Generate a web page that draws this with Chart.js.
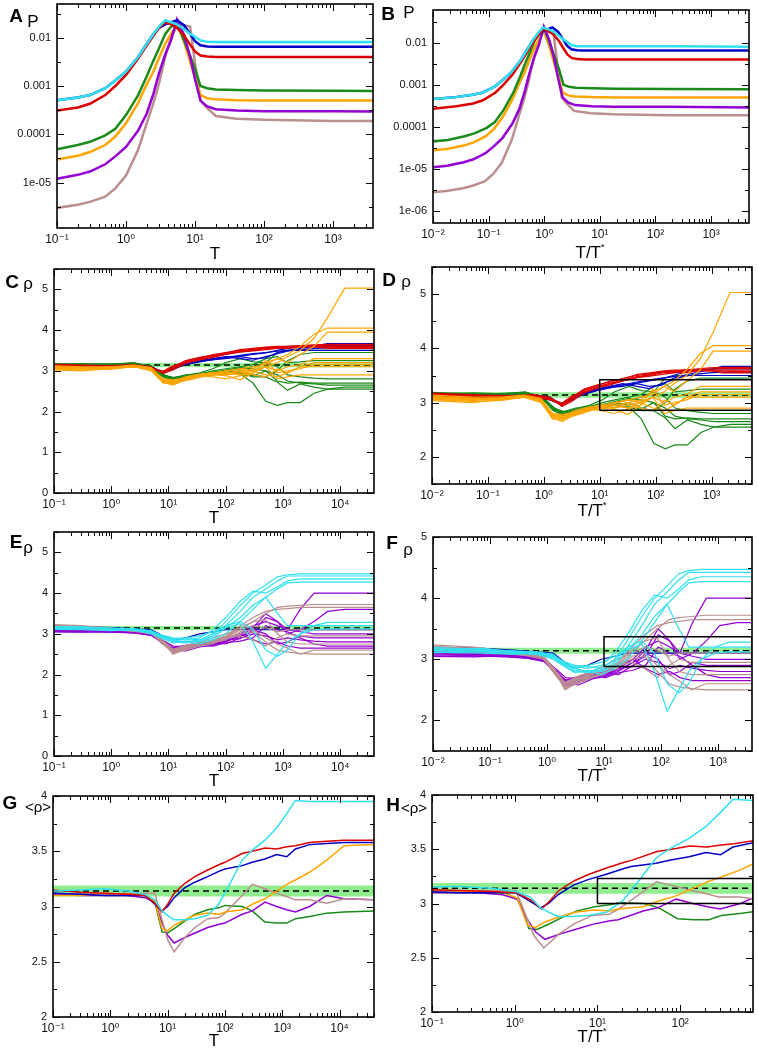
<!DOCTYPE html>
<html>
<head>
<meta charset="UTF-8">
<title>P and rho versus T</title>
<script src="https://cdn.jsdelivr.net/npm/chart.js"></script>
<style>
  body { margin: 0; background: #fff; width: 758px; height: 1050px; position: relative; overflow: hidden;
         font-family: "Liberation Sans", Arial, sans-serif; }
  canvas { position: absolute; }
  .lab { position: absolute; transform: translate(-50%, -50%); white-space: nowrap; line-height: 1; color: #000; }
  .big { font-weight: bold; font-size: 19px; }
  sup { font-size: 9px; vertical-align: 8px; }
</style>
</head>
<body>
<script>
// colours of the seven systems
const colors = {
  cyan: '#30e0ee', blue: '#0000c8', red: '#dc0000', green: '#1a8a1a',
  orange: '#ffa500', purple: '#9400d3', brown: '#bc8f8f'
};
// T* of each system (used for the T/T* panels)
const tStar = { cyan: 3.9, blue: 3.9, red: 3.8, green: 5.4, orange: 5.6, purple: 5.6, brown: 5.8 };

// panels A / B : P(T)
const tP = [0.03, 0.1, 0.2, 0.3, 0.5, 0.7, 1, 1.5, 2, 2.5, 3, 3.7, 4.5, 5.5, 7, 8.5, 10, 12, 15, 20, 40, 100, 1000, 30000];
const pCyan   = [4.5e-4, 5.1e-4, 5.8e-4, 6.5e-4, 9e-4, 1.3e-3, 2e-3, 4e-3, 7.5e-3, 0.012, 0.017, 0.023, 0.021, 0.019, 0.015, 0.012, 0.0105, 0.0088, 0.0083, 0.0082, 0.0082, 0.0082, 0.0082, 0.008];
const pBlue   = [4.5e-4, 5.1e-4, 5.8e-4, 6.5e-4, 9e-4, 1.3e-3, 2e-3, 4e-3, 7.5e-3, 0.012, 0.016, 0.019, 0.021, 0.023, 0.018, 0.012, 0.0085, 0.0070, 0.0066, 0.0065, 0.0065, 0.0065, 0.0065, 0.0065];
const pRed    = [2.6e-4, 3.1e-4, 3.6e-4, 4.3e-4, 6.5e-4, 1e-3, 1.7e-3, 3.7e-3, 7e-3, 0.011, 0.016, 0.021, 0.019, 0.016, 0.011, 0.0072, 0.0052, 0.0043, 0.0041, 0.0040, 0.0040, 0.0040, 0.0040, 0.0040];
const pGreen  = [4.2e-5, 4.9e-5, 6e-5, 7e-5, 9.5e-5, 1.3e-4, 2.5e-4, 6.5e-4, 1.6e-3, 3.4e-3, 6e-3, 0.012, 0.017, 0.021, 0.0085, 0.0042, 0.0023, 0.0010, 0.0009, 0.00085, 0.00083, 0.00081, 0.0008, 0.00078];
const pOrange = [2.6e-5, 3e-5, 3.6e-5, 4.3e-5, 6e-5, 9e-5, 1.7e-4, 4.5e-4, 1.1e-3, 2e-3, 3.8e-3, 7.5e-3, 0.012, 0.019, 0.0079, 0.0032, 0.0015, 6.5e-4, 5.6e-4, 5.3e-4, 5.1e-4, 5e-4, 5e-4, 5e-4];
const pPurple = [1e-5, 1.2e-5, 1.45e-5, 1.7e-5, 2.4e-5, 3.5e-5, 5.5e-5, 1.2e-4, 2.7e-4, 7e-4, 1.8e-3, 4.5e-3, 9e-3, 0.024, 0.011, 0.004, 0.0014, 5e-4, 3.8e-4, 3.3e-4, 3.1e-4, 3e-4, 3e-4, 2.9e-4];
const pBrown  = [2.6e-6, 3e-6, 3.5e-6, 4e-6, 5.1e-6, 7.6e-6, 1.4e-5, 4.8e-5, 1.7e-4, 4.5e-4, 1.1e-3, 4e-3, 0.01, 0.018, 0.018, 0.017, 0.003, 5e-4, 3.5e-4, 2.4e-4, 2.1e-4, 2e-4, 1.9e-4, 1.9e-4];

// panels C..F : rho(T) of single runs
const tRho = [0.03, 0.3, 1, 2.5, 5, 8, 12, 20, 35, 60, 100, 180, 300, 500, 800, 1200, 2000, 3500, 6000, 12000, 40000];
const rhoRed = [
  [3.15,3.12,3.12,3.14,3.08,2.95,3.05,3.22,3.30,3.36,3.42,3.48,3.50,3.55,3.57,3.55,3.58,3.62,3.63,3.63,3.63],
  [3.12,3.10,3.10,3.12,3.06,2.97,3.10,3.25,3.33,3.38,3.45,3.50,3.53,3.57,3.58,3.60,3.62,3.64,3.65,3.65,3.65],
  [3.18,3.14,3.13,3.15,3.10,2.93,3.02,3.18,3.27,3.33,3.40,3.46,3.49,3.52,3.55,3.56,3.58,3.60,3.60,3.60,3.60],
  [3.10,3.08,3.11,3.13,3.07,2.99,3.12,3.20,3.28,3.34,3.41,3.47,3.52,3.56,3.56,3.58,3.60,3.58,3.58,3.57,3.57],
  [3.16,3.13,3.12,3.10,3.05,2.96,3.07,3.24,3.32,3.40,3.44,3.52,3.55,3.58,3.60,3.60,3.61,3.60,3.55,3.55,3.55]
];
const rhoBlue = [
  [3.14,3.12,3.10,3.12,3.08,2.98,3.05,3.15,3.22,3.28,3.30,3.35,3.30,3.32,3.45,3.50,3.55,3.60,3.67,3.67,3.67],
  [3.12,3.10,3.11,3.13,3.06,2.96,3.08,3.18,3.25,3.30,3.35,3.30,3.26,3.35,3.42,3.48,3.52,3.55,3.56,3.56,3.56],
  [3.16,3.12,3.12,3.14,3.10,2.97,3.04,3.17,3.24,3.30,3.33,3.38,3.42,3.45,3.48,3.50,3.50,3.50,3.50,3.50,3.50],
  [3.10,3.09,3.10,3.11,3.05,2.98,3.06,3.16,3.23,3.27,3.32,3.36,3.40,3.44,3.50,3.55,3.60,3.62,3.62,3.62,3.62]
];
const rhoGreen = [
  [3.15,3.18,3.16,3.20,3.10,2.88,2.80,2.82,2.86,2.90,2.95,2.92,2.70,2.25,2.15,2.22,2.22,2.45,2.55,2.60,2.60],
  [3.10,3.12,3.14,3.15,3.08,2.85,2.78,2.84,2.90,2.95,3.00,2.95,2.85,2.85,2.72,2.52,2.68,2.60,2.55,2.55,2.55],
  [3.20,3.16,3.15,3.18,3.12,2.90,2.82,2.88,2.95,3.05,3.20,3.30,3.22,3.20,3.10,2.90,2.85,2.82,2.80,2.80,2.80],
  [3.12,3.10,3.13,3.16,3.10,2.86,2.76,2.80,2.88,2.92,2.96,3.00,2.90,2.85,3.00,3.25,3.40,3.45,3.45,3.45,3.45],
  [3.16,3.14,3.12,3.14,3.06,2.90,2.84,2.85,2.90,2.96,3.02,3.08,3.05,3.00,2.90,2.75,2.70,2.68,2.65,2.65,2.65],
  [3.14,3.15,3.17,3.19,3.11,2.92,2.80,2.86,2.92,3.00,3.05,3.10,3.15,3.30,3.35,3.20,3.22,3.25,3.25,3.25,3.25],
  [3.18,3.13,3.14,3.15,3.09,2.87,2.83,2.90,2.93,2.97,2.98,2.90,2.88,3.00,2.75,2.70,2.72,2.70,2.70,2.70,2.70],
  [3.11,3.12,3.15,3.17,3.12,2.89,2.79,2.83,2.87,2.93,3.00,3.05,3.10,3.20,3.45,3.50,3.50,3.50,3.50,3.50,3.50]
];
const rhoOrange = [
  [3.10,3.05,3.08,3.12,3.05,2.75,2.70,2.80,2.88,2.92,2.95,2.90,3.00,3.10,3.20,3.35,3.50,3.80,4.30,5.03,5.03],
  [3.05,3.00,3.06,3.10,3.02,2.70,2.68,2.82,2.90,2.95,2.90,3.00,3.05,3.20,3.30,3.40,3.60,3.90,4.05,4.05,4.05],
  [3.12,3.08,3.05,3.13,3.06,2.80,2.75,2.85,2.92,2.95,3.00,3.05,3.10,3.15,3.30,3.20,3.40,3.60,3.95,3.95,3.95],
  [3.08,3.02,3.04,3.10,3.00,2.72,2.65,2.78,2.85,2.90,2.88,2.78,2.95,3.10,3.00,3.10,3.15,3.30,3.30,3.30,3.30],
  [3.15,3.10,3.10,3.14,3.08,2.78,2.72,2.80,2.86,2.90,2.95,3.00,2.90,2.85,3.05,2.95,3.10,3.20,3.20,3.20,3.20],
  [3.06,3.04,3.07,3.11,3.04,2.76,2.74,2.83,2.88,2.85,2.80,2.88,2.95,3.25,2.95,3.00,3.05,3.15,3.15,3.15,3.15],
  [3.10,3.06,3.09,3.12,3.03,2.74,2.70,2.76,2.84,2.92,2.98,3.05,3.00,2.90,2.85,2.95,3.10,3.10,3.10,3.10,3.10],
  [3.13,3.08,3.06,3.10,3.05,2.80,2.78,2.82,2.90,2.96,2.90,2.95,3.02,3.10,2.80,2.85,2.90,2.90,2.90,2.90,2.90]
];
const rhoCyan = [
  [3.15,3.18,3.12,3.10,3.05,2.95,2.85,2.80,2.85,3.00,3.30,3.70,4.00,4.20,4.40,4.45,4.47,4.47,4.47,4.47,4.47],
  [3.10,3.14,3.10,3.08,3.02,2.90,2.80,2.78,2.82,2.95,3.20,3.55,3.90,4.10,4.30,4.42,4.42,4.42,4.42,4.42,4.42],
  [3.20,3.16,3.14,3.12,3.06,2.92,2.88,2.85,2.90,3.10,3.40,3.80,4.05,4.00,4.15,4.30,4.35,4.35,4.35,4.35,4.35],
  [3.12,3.10,3.08,3.10,3.00,2.88,2.78,2.82,2.80,2.90,3.15,3.40,3.70,3.90,4.10,4.25,4.27,4.27,4.27,4.27,4.27],
  [3.18,3.15,3.13,3.12,3.08,2.94,2.82,2.80,2.75,2.85,3.00,3.30,3.10,2.60,2.45,2.60,3.00,3.20,3.28,3.28,3.28],
  [3.14,3.12,3.10,3.10,3.04,2.90,2.86,2.90,2.95,3.05,3.15,3.25,2.80,2.15,2.50,2.80,3.00,3.10,3.12,3.12,3.12],
  [3.16,3.13,3.11,3.10,3.05,2.96,2.90,2.88,2.85,3.00,3.20,3.30,3.60,3.90,3.50,3.20,3.20,3.20,3.20,3.20,3.20]
];
const rhoPurple = [
  [3.10,3.08,3.06,3.04,3.00,2.80,2.55,2.62,2.70,2.75,2.85,3.00,3.20,3.30,3.20,3.10,3.60,4.00,4.00,4.00,4.00],
  [3.06,3.05,3.05,3.02,2.98,2.75,2.60,2.58,2.68,2.72,2.80,2.95,3.05,3.40,3.30,3.00,3.10,3.30,3.55,3.60,3.60],
  [3.12,3.10,3.08,3.05,3.00,2.82,2.65,2.70,2.75,2.80,2.90,3.00,2.85,2.75,2.80,2.70,2.65,2.65,2.65,2.65,2.65],
  [3.08,3.06,3.04,3.02,2.96,2.78,2.58,2.64,2.72,2.70,2.78,2.82,2.90,3.20,3.10,3.05,2.90,2.75,2.70,2.70,2.70],
  [3.14,3.10,3.07,3.05,3.02,2.84,2.70,2.68,2.74,2.78,2.75,2.90,3.00,2.95,2.85,2.90,2.85,2.82,2.80,2.80,2.80],
  [3.10,3.07,3.05,3.03,2.97,2.80,2.62,2.66,2.70,2.76,2.85,2.88,3.10,3.00,2.75,2.80,2.95,2.90,2.90,2.90,2.90],
  [3.05,3.04,3.06,3.04,2.99,2.76,2.66,2.72,2.78,2.74,2.82,2.95,3.15,3.50,3.30,3.10,3.05,3.00,3.00,3.00,3.00]
];
const rhoBrown = [
  [3.22,3.18,3.12,3.10,3.05,2.80,2.50,2.62,2.70,2.80,2.90,3.10,3.30,3.50,3.65,3.68,3.70,3.72,3.72,3.72,3.72],
  [3.18,3.15,3.10,3.08,3.02,2.75,2.55,2.66,2.75,2.82,2.95,3.20,3.40,3.55,3.60,3.62,3.65,3.65,3.65,3.65,3.65],
  [3.25,3.20,3.14,3.10,3.06,2.82,2.60,2.70,2.78,2.85,2.90,3.00,3.05,2.80,2.60,2.55,2.52,2.50,2.50,2.50,2.50],
  [3.20,3.16,3.12,3.08,3.04,2.78,2.52,2.64,2.72,2.78,2.85,3.05,3.10,2.90,2.75,2.65,2.50,2.60,2.60,2.60,2.60],
  [3.15,3.12,3.10,3.06,3.00,2.80,2.58,2.68,2.76,2.84,2.92,3.15,3.30,3.35,3.00,2.80,2.75,2.75,2.75,2.75,2.75],
  [3.22,3.17,3.13,3.09,3.03,2.77,2.55,2.60,2.70,2.76,2.90,2.95,2.85,2.70,2.90,3.00,2.95,2.95,2.95,2.95,2.95],
  [3.19,3.14,3.11,3.07,3.05,2.83,2.62,2.72,2.80,2.90,3.00,3.10,3.20,3.15,3.05,3.10,3.10,3.10,3.10,3.10,3.10]
];
const rhoBlueEF = [
  [3.20,3.18,3.15,3.12,3.10,2.95,2.85,2.90,3.00,3.05,3.10,3.10,3.10,3.10,3.10,3.10,3.10,3.10,3.10,3.10,3.10]
];

// panels G / H : <rho>(T)
const tAvg = [0.05, 0.1, 0.3, 0.8, 2, 4, 6, 8, 10, 13, 20, 30, 50, 80, 100, 200, 300, 500, 800, 1200, 1700, 3000, 6000, 12000, 40000];
const avgCyan   = [3.14,3.14,3.15,3.16,3.14,3.11,3.06,2.96,2.92,2.88,2.88,2.89,2.92,3.03,3.12,3.42,3.51,3.60,3.71,3.84,3.96,3.95,3.95,3.95,3.95];
const avgRed    = [3.15,3.15,3.13,3.12,3.11,3.10,3.03,2.95,3.02,3.12,3.21,3.27,3.33,3.38,3.40,3.48,3.50,3.53,3.52,3.54,3.55,3.58,3.59,3.60,3.60];
const avgBlue   = [3.12,3.12,3.11,3.10,3.10,3.10,3.02,2.96,3.00,3.08,3.17,3.22,3.27,3.32,3.34,3.37,3.40,3.43,3.47,3.45,3.52,3.56,3.57,3.58,3.58];
const avgGreen  = [3.12,3.12,3.11,3.11,3.10,3.10,3.04,2.77,2.76,2.80,2.87,2.93,2.97,2.99,3.01,3.00,2.96,2.86,2.85,2.85,2.89,2.91,2.94,2.95,2.96];
const avgOrange = [3.10,3.10,3.10,3.12,3.11,3.10,3.05,2.80,2.78,2.83,2.88,2.92,2.94,2.93,2.95,2.97,3.02,3.07,3.14,3.20,3.24,3.31,3.42,3.55,3.56];
const avgPurple = [3.11,3.11,3.10,3.10,3.10,3.08,3.04,2.85,2.74,2.67,2.72,2.76,2.81,2.84,2.85,2.93,2.96,3.04,3.00,2.97,2.95,3.00,3.10,3.07,3.06];
const avgBrown  = [3.12,3.12,3.11,3.11,3.12,3.12,3.12,2.88,2.70,2.59,2.72,2.81,2.89,2.90,2.94,3.10,3.20,3.16,3.12,3.09,3.06,3.06,3.03,3.07,3.06];

// pi band, dashed pi line and the zoom boxes [x0, yLow, yHigh]
const piBand = [3.09, 3.19];
const piValue = 3.14;
const boxD = [10, 2.86, 3.42];
const boxF = [10, 2.88, 3.37];
const boxH = [10, 3.0, 3.23];

const setsP = [['cyan', [pCyan]], ['red', [pRed]], ['blue', [pBlue]], ['purple', [pPurple]], ['green', [pGreen]], ['orange', [pOrange]], ['brown', [pBrown]]];
const setsCD = [['orange', rhoOrange], ['red', rhoRed], ['blue', rhoBlue], ['green', rhoGreen]];
const setsEF = [['cyan', rhoCyan], ['brown', rhoBrown], ['purple', rhoPurple], ['blue', rhoBlueEF]];
const setsGH = [['cyan', [avgCyan]], ['red', [avgRed]], ['blue', [avgBlue]], ['orange', [avgOrange]], ['brown', [avgBrown]], ['purple', [avgPurple]], ['green', [avgGreen]]];

const panels = [
  { rect: [57, 4, 373, 228],   x: [0.1, 3800],  y: [1.15e-6, 0.05], log: true, lw: 2.5, t: tP, sets: setsP, scaled: false },
  { rect: [433, 10, 749, 223], x: [0.01, 4800], y: [5.2e-7, 0.06],  log: true, lw: 2.5, t: tP, sets: setsP, scaled: true },
  { rect: [54, 269, 374, 493], x: [0.1, 39000], y: [0, 5.5], major: 1, minor: 0.5, lw: 1.2, t: tRho, sets: setsCD, scaled: false, band: true },
  { rect: [432, 267, 752, 484], x: [0.01, 5300], y: [1.5, 5.5], major: 1, minor: 0.5, lw: 1.2, t: tRho, sets: setsCD, scaled: true, band: true, box: boxD },
  { rect: [54, 532, 374, 756], x: [0.1, 39000], y: [0, 5.5], major: 1, minor: 0.5, lw: 1.2, t: tRho, sets: setsEF, scaled: false, band: true },
  { rect: [433, 537, 752, 751], x: [0.01, 3950], y: [1.5, 5], major: 1, minor: 0.5, lw: 1.2, t: tRho, sets: setsEF, scaled: true, band: true, box: boxF },
  { rect: [53, 796, 374, 1017], x: [0.1, 40000], y: [2, 4], major: 0.5, minor: 0.25, lw: 1.5, t: tAvg, sets: setsGH, scaled: false, band: true },
  { rect: [432, 795, 753, 1012], x: [0.1, 760], y: [2, 4], major: 0.5, minor: 0.25, lw: 1.5, t: tAvg, sets: setsGH, scaled: true, band: true, box: boxH }
];

const labels = [
  ['A', 16, 15, true], ['P', 33, 21], ['B', 388, 13, true], ['P', 409, 12],
  ['C', 12, 281, true], ['ρ', 28, 283], ['D', 389, 279, true], ['ρ', 406, 281],
  ['E', 16, 541, true], ['ρ', 28, 547], ['F', 392, 542, true], ['ρ', 408, 549],
  ['G', 10, 802, true], ['&lt;ρ&gt;', 38, 806], ['H', 393, 804, true], ['&lt;ρ&gt;', 414, 807],
  ['T', 215, 253], ['T/T<sup>*</sup>', 590, 252], ['T', 214, 517], ['T/T<sup>*</sup>', 592, 510],
  ['T', 214, 780], ['T/T<sup>*</sup>', 592, 775], ['T', 214, 1040], ['T/T<sup>*</sup>', 592, 1036]
];

const SUP = { '-': '⁻', '0': '⁰', '1': '¹', '2': '²', '3': '³', '4': '⁴', '5': '⁵' };
const xFont = { family: 'Liberation Sans, DejaVu Sans, sans-serif', size: 12 };
const yFont = { family: 'Liberation Sans, DejaVu Sans, sans-serif', size: 11 };

function logTicks(min, max) {
  const out = [];
  for (let k = Math.floor(Math.log10(min)); k <= Math.ceil(Math.log10(max)); k++) {
    for (let m = 1; m <= 9; m++) {
      const v = m * Math.pow(10, k);
      if (v >= min * 0.9999 && v <= max * 1.0001) out.push({ value: v, big: m === 1 });
    }
  }
  return out;
}
function logHalfTicks(min, max) {
  const out = [];
  for (let k = Math.floor(Math.log10(min)); k <= Math.ceil(Math.log10(max)); k++) {
    [[Math.pow(10, k), true], [Math.pow(10, k + 0.5), false]].forEach(([v, big]) => {
      if (v >= min * 0.9999 && v <= max * 1.0001) out.push({ value: v, big });
    });
  }
  return out;
}
function linTicks(min, max, minor, major) {
  const out = [];
  for (let i = 0; min + i * minor <= max + 1e-9; i++) {
    const v = +(min + i * minor).toFixed(4);
    out.push({ value: v, big: Math.abs(v / major - Math.round(v / major)) < 1e-6 });
  }
  return out;
}
function powLabel(v) {
  const e = Math.round(Math.log10(v));
  return '10' + String(e).split('').map(c => SUP[c]).join('');
}
function pLabel(v) {
  const e = Math.round(Math.log10(v));
  return e >= -4 ? v.toFixed(-e) : '1e-0' + (-e);
}

// inward ticks on all four sides plus the frame
const frame = {
  id: 'frame',
  afterDraw(chart) {
    const { ctx, chartArea: a } = chart;
    const xs = chart.scales.x, ys = chart.scales.y;
    ctx.save();
    ctx.strokeStyle = '#000';
    ctx.lineWidth = 1;
    ctx.beginPath();
    xs.ticks.forEach(t => {
      const p = Math.round(xs.getPixelForValue(t.value)) + 0.5, L = t.big ? 7 : 4;
      ctx.moveTo(p, a.bottom); ctx.lineTo(p, a.bottom - L);
      ctx.moveTo(p, a.top); ctx.lineTo(p, a.top + L);
    });
    ys.ticks.forEach(t => {
      const p = Math.round(ys.getPixelForValue(t.value)) + 0.5, L = t.big ? 7 : 4;
      ctx.moveTo(a.left, p); ctx.lineTo(a.left + L, p);
      ctx.moveTo(a.right, p); ctx.lineTo(a.right - L, p);
    });
    ctx.stroke();
    ctx.lineWidth = 1.6;
    ctx.strokeRect(a.left, a.top, a.right - a.left, a.bottom - a.top);
    ctx.restore();
  }
};

const PADL = 56, PADT = 14, PADR = 10, PADB = 22;

panels.forEach(p => {
  const [l, t, r, b] = p.rect;
  const cv = document.createElement('canvas');
  cv.width = r - l + PADL + PADR;
  cv.height = b - t + PADT + PADB;
  cv.style.left = (l - PADL) + 'px';
  cv.style.top = (t - PADT) + 'px';
  document.body.appendChild(cv);

  const datasets = [];
  p.sets.forEach(([color, runs]) => {
    runs.forEach(run => {
      datasets.push({
        data: p.t.map((x, i) => ({ x: p.scaled ? x / tStar[color] : x, y: run[i] })),
        borderColor: colors[color],
        borderWidth: p.lw,
        order: 0
      });
    });
  });
  if (p.band) {
    datasets.push({
      data: [{ x: p.x[0], y: piBand[1] }, { x: p.x[1], y: piBand[1] }],
      borderWidth: 0, borderColor: 'rgba(0,0,0,0)', backgroundColor: '#90ee90',
      fill: { value: piBand[0] }, order: 10
    });
    datasets.push({
      data: [{ x: p.x[0], y: piValue }, { x: p.x[1], y: piValue }],
      borderColor: '#000', borderWidth: 1.5, borderDash: [6, 4], order: 9
    });
  }
  if (p.box) {
    const [x0, y0, y1] = p.box;
    datasets.push({
      data: [{ x: x0, y: y0 }, { x: x0, y: y1 }, { x: p.x[1], y: y1 }, { x: p.x[1], y: y0 }, { x: x0, y: y0 }],
      borderColor: '#000', borderWidth: 1.5, order: -1
    });
  }

  const fit = (s, w, h) => {
    if (w !== undefined) s.width = w;
    if (h !== undefined) s.height = h;
    s.paddingTop = s.paddingBottom = s.paddingLeft = s.paddingRight = 0;
  };

  new Chart(cv, {
    type: 'line',
    data: { datasets },
    options: {
      responsive: false,
      animation: false,
      devicePixelRatio: 1,
      layout: { padding: { top: PADT, right: PADR, left: 0, bottom: 0 } },
      elements: { point: { radius: 0 }, line: { tension: 0, fill: false } },
      plugins: { legend: { display: false }, tooltip: { enabled: false } },
      scales: {
        x: {
          type: 'logarithmic', min: p.x[0], max: p.x[1],
          afterBuildTicks: s => { s.ticks = logTicks(p.x[0], p.x[1]); },
          afterFit: s => fit(s, undefined, PADB),
          grid: { display: false, drawTicks: false },
          border: { display: false },
          ticks: {
            autoSkip: false, maxRotation: 0, minRotation: 0, padding: 4,
            font: xFont, color: '#111',
            callback: (v, i, ts) => ts[i].big ? powLabel(v) : ''
          }
        },
        y: {
          type: p.log ? 'logarithmic' : 'linear', min: p.y[0], max: p.y[1],
          afterBuildTicks: s => {
            s.ticks = p.log ? logHalfTicks(p.y[0], p.y[1]) : linTicks(p.y[0], p.y[1], p.minor, p.major);
          },
          afterFit: s => fit(s, PADL, undefined),
          grid: { display: false, drawTicks: false },
          border: { display: false },
          ticks: {
            autoSkip: false, padding: 6, font: yFont, color: '#111',
            callback: (v, i, ts) => ts[i].big ? (p.log ? pLabel(v) : String(+v.toFixed(2))) : ''
          }
        }
      }
    },
    plugins: [frame]
  });
});

labels.forEach(([txt, x, y, bold]) => {
  const d = document.createElement('div');
  d.className = 'lab' + (bold ? ' big' : '');
  d.innerHTML = txt;
  d.style.left = x + 'px';
  d.style.top = y + 'px';
  if (!bold) d.style.fontSize = txt.indexOf('&lt;') === 0 ? '15px' : '17px';
  document.body.appendChild(d);
});
</script>
</body>
</html>
